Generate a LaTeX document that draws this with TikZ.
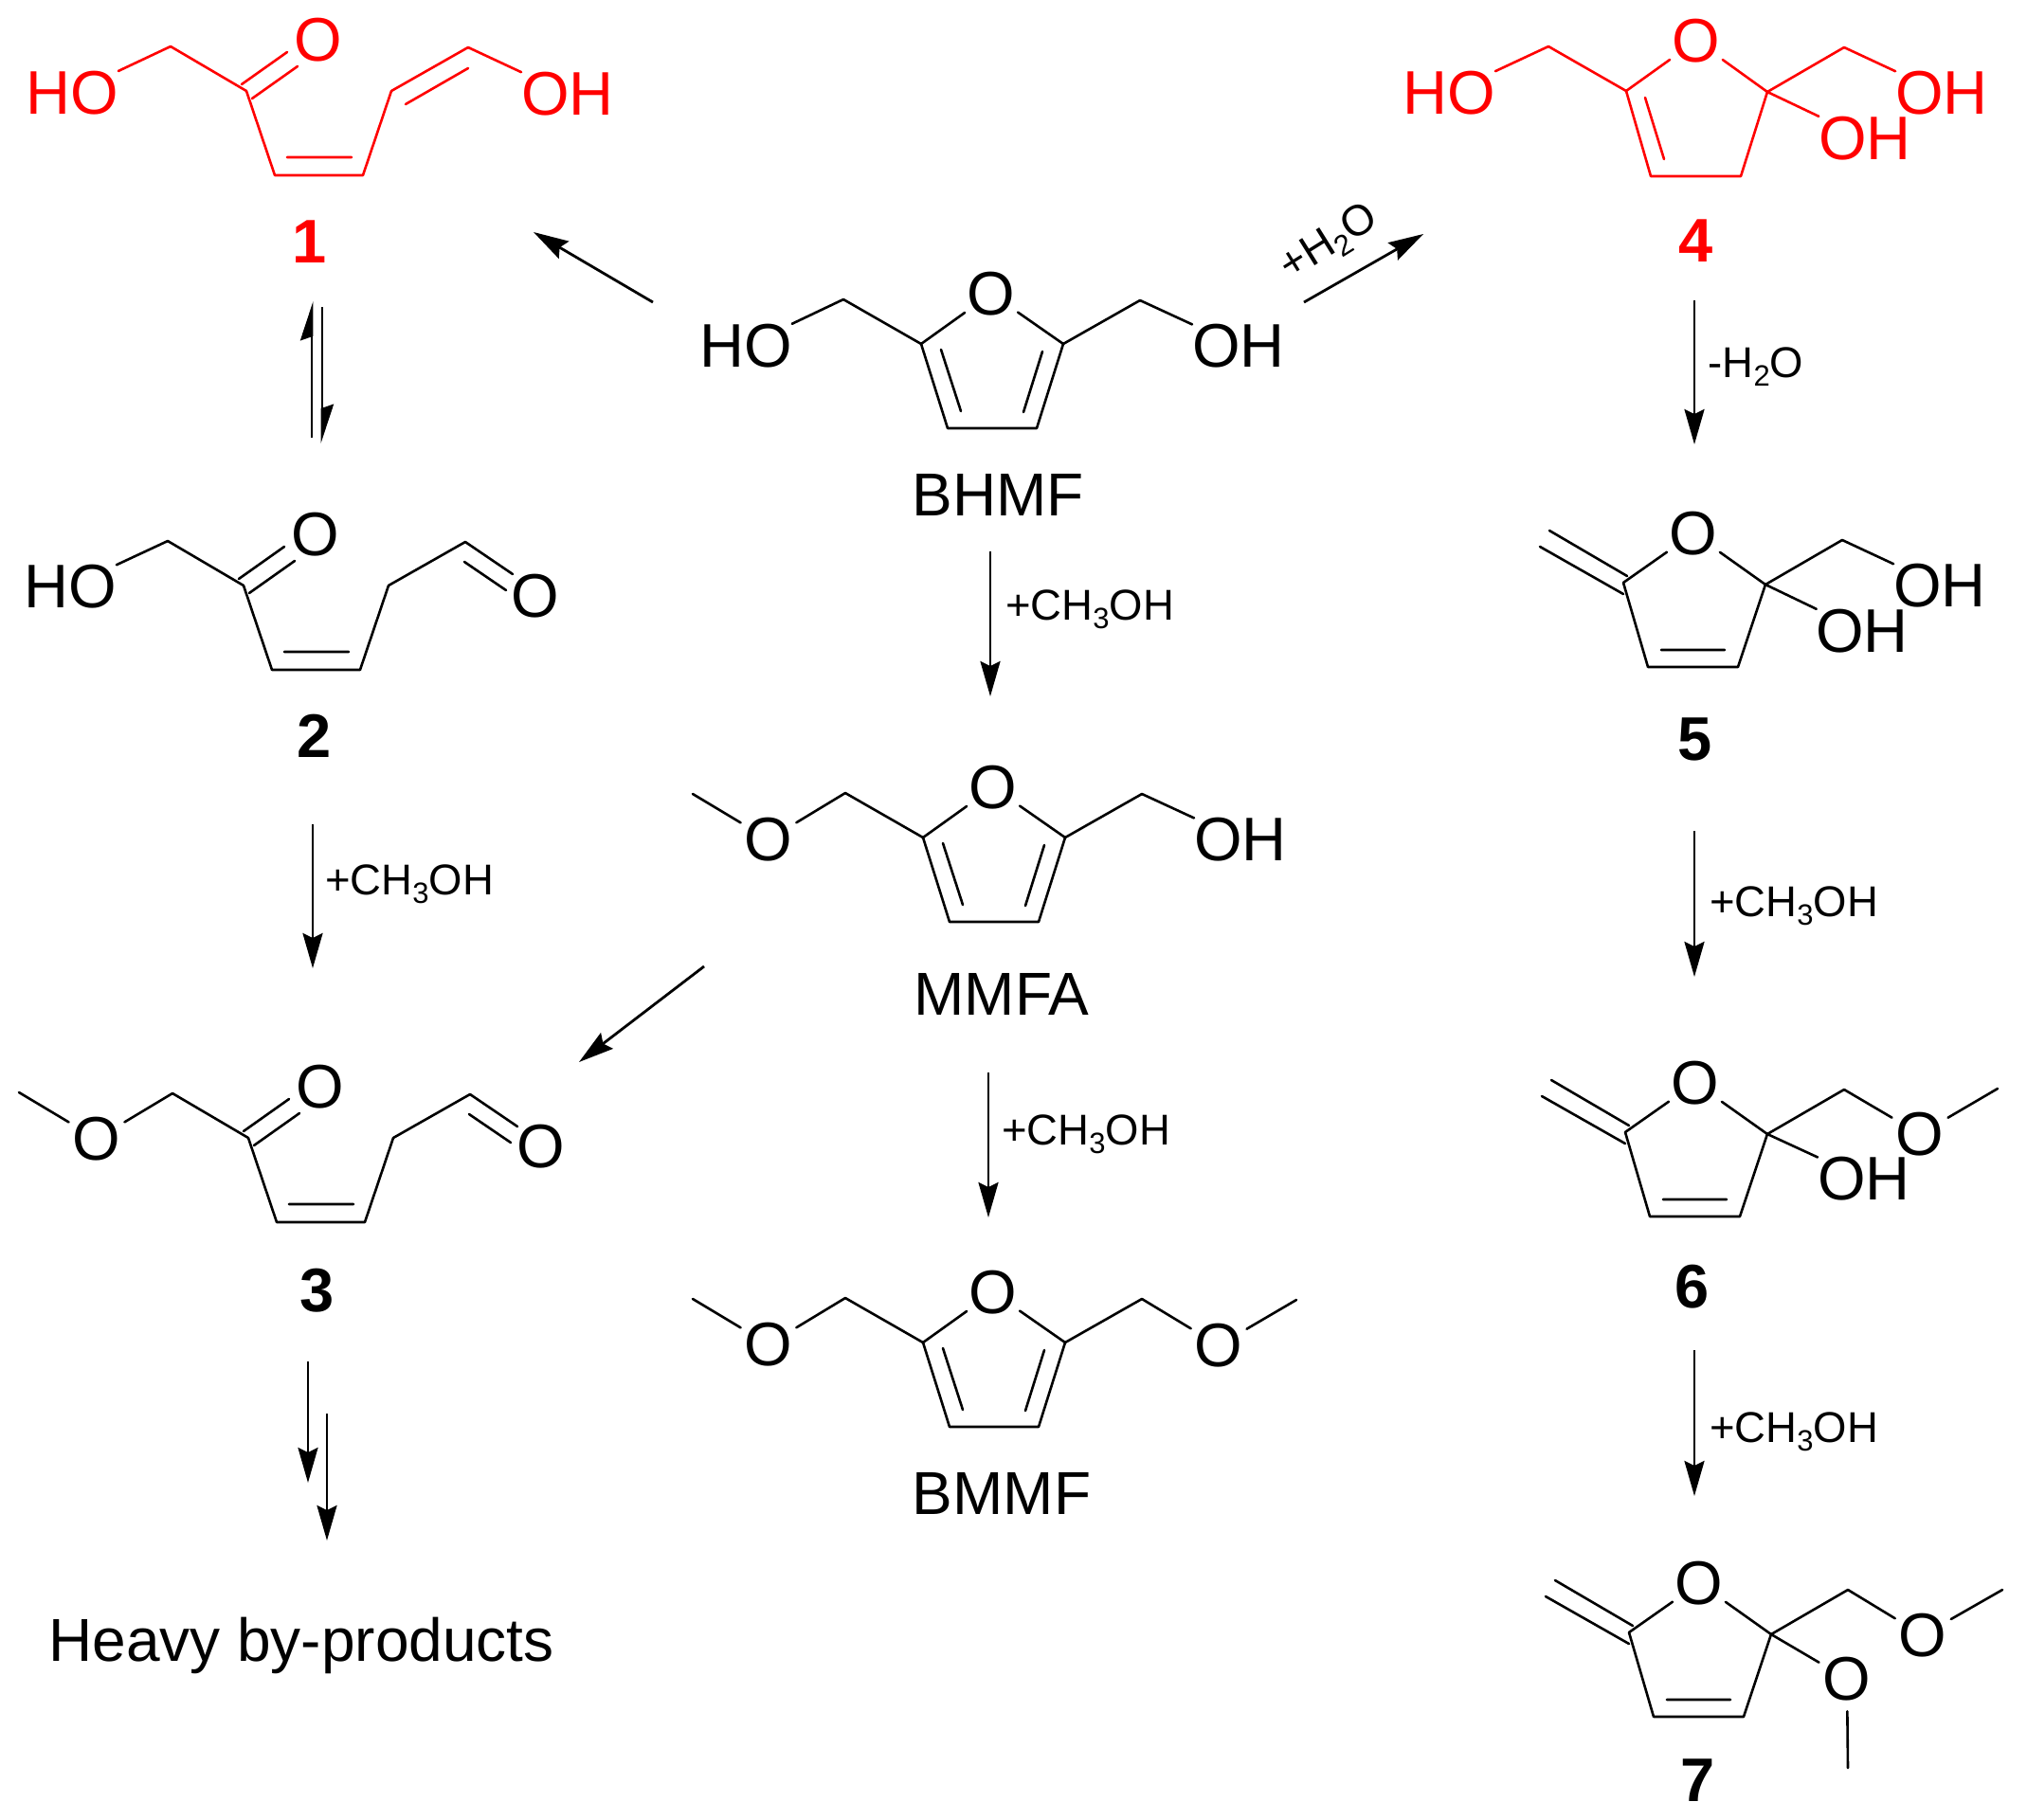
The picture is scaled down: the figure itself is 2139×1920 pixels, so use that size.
\documentclass[tikz,border=0pt]{standalone}
\usepackage{fontspec}
\setmainfont{Liberation Sans}
\usetikzlibrary{arrows.meta}
\definecolor{chemred}{RGB}{255,0,0}
\newcommand\atomfont{\fontsize{65}{70}\selectfont}
\newcommand\capfont{\fontsize{64}{68}\selectfont}
\newcommand\numfont{\fontsize{65}{70}\selectfont\bfseries}
\newcommand\labfont{\fontsize{45.5}{50}\selectfont}
\newcommand\subdig[1]{\raisebox{-.2em}{\fontsize{31}{31}\selectfont #1}}
\tikzset{
  bond/.style={line width=2.6pt,line cap=round,line join=round},
  atom/.style={circle,inner sep=0pt,minimum size=66pt,font=\atomfont},
  grp/.style={rectangle,inner sep=0pt,font=\atomfont},
  captext/.style={inner sep=0pt,font=\capfont},
  numtext/.style={inner sep=0pt,font=\numfont},
  labtext/.style={inner sep=0pt,font=\labfont},
  rxn/.style={line width=2.8pt,-{Stealth[length=37pt,width=21pt,inset=5pt]}},
  rxnhalf/.style={line width=2.8pt,-{Stealth[length=37pt,width=24pt,inset=4pt,left]}},
}
% open-chain core, in the coordinates of compound 2
\newcommand\chaincore{%
  \coordinate (ch2) at (177,571);
  \coordinate (c1) at (257,618);
  \coordinate (c3) at (287,707);
  \coordinate (c4) at (380,707);
  \coordinate (c5) at (410,618);
  \coordinate (ch) at (491,572);
  \coordinate (oa) at (252,611); \coordinate (ob) at (300,577);
  \coordinate (oc) at (263,626); \coordinate (od) at (311,592);
  \coordinate (ia) at (300,688); \coordinate (ib) at (368,688);
  \node[atom] (Ok) at (333,564) {O};
  \draw[bond] (ch2) -- (c1) -- (c3) -- (c4) -- (c5) -- (ch);
  \draw[bond] (oa) -- (ob) (oc) -- (od) (ia) -- (ib);
}
% aldehyde end of compounds 2 and 3
\newcommand\aldehyde{%
  \coordinate (ala) at (491,572); \coordinate (alb) at (541,606);
  \coordinate (alc) at (490,593); \coordinate (ald) at (534,623);
  \draw[bond] (ala) -- (alb) (alc) -- (ald);
}
% furan core, in the coordinates of BHMF
\newcommand\furancore{%
  \coordinate (lc) at (890,316);
  \coordinate (c2) at (972,363);
  \coordinate (c3) at (1000,452);
  \coordinate (c4) at (1094,452);
  \coordinate (c5) at (1122,363);
  \coordinate (rc) at (1203,317);
  \coordinate (ia) at (993,369); \coordinate (ib) at (1014,434);
  \coordinate (ic) at (1100,371); \coordinate (id) at (1080,435);
  \node[atom] (Or) at (1046,310) {O};
  \draw[bond] (lc) -- (c2) -- (c3) -- (c4) -- (c5) -- (rc);
  \draw[bond] (c2) -- (Or) -- (c5);
  \draw[bond] (ia) -- (ib) (ic) -- (id);
}
% methylene dihydrofuran core, in the coordinates of compound 5
\newcommand\methylenecore{%
  \coordinate (ea) at (1635,560); \coordinate (eb) at (1717,608);
  \coordinate (ec) at (1625,577); \coordinate (ed) at (1713,627);
  \coordinate (c2) at (1713,615);
  \coordinate (c3) at (1739,704);
  \coordinate (c4) at (1834,704);
  \coordinate (c5) at (1863,617);
  \coordinate (rc) at (1944,570);
  \coordinate (ia) at (1753,686); \coordinate (ib) at (1820,686);
  \node[atom] (Or) at (1787,563) {O};
  \draw[bond] (ea) -- (eb) (ec) -- (ed) (ia) -- (ib);
  \draw[bond] (c2) -- (c3) -- (c4) -- (c5) -- (rc);
  \draw[bond] (c2) -- (Or) -- (c5);
}
\begin{document}
\begin{tikzpicture}[x=1pt,y=-1pt]
\useasboundingbox (0,0) rectangle (2139,1920);

% compound 1
\begin{scope}[shift={(3,-522)},name prefix=a-,color=chemred]
  \chaincore
  \node[grp] (HO) at (73,620) {HO};
  \node[grp] (OH) at (596,621) {OH};
  \coordinate (id1) at (425,632); \coordinate (id2) at (491,594);
  \draw[bond] (ch2) -- (HO) (ch) -- (OH) (id1) -- (id2);
  \node[numtext] (n1) at (324,777) {1};
\end{scope}

% compound 2
\begin{scope}[name prefix=b-]
  \chaincore \aldehyde
  \node[grp] (HO) at (74,619) {HO};
  \node[atom] (Oal) at (565,629) {O};
  \draw[bond] (ch2) -- (HO);
  \node[numtext] (n2) at (332,777) {2};
\end{scope}

% compound 3
\begin{scope}[shift={(5,583)},name prefix=c-]
  \chaincore \aldehyde
  \node[atom] (Om) at (97,619) {O};
  \coordinate (me) at (15,570);
  \draw[bond] (ch2) -- (Om) -- (me);
  \node[atom] (Oal) at (566,627) {O};
  \node[numtext] (n3) at (330,779) {3};
\end{scope}

% BHMF
\begin{scope}[name prefix=d-]
  \furancore
  \node[grp] (HO) at (787,365) {HO};
  \node[grp] (OH) at (1307,365) {OH};
  \draw[bond] (lc) -- (HO) (rc) -- (OH);
  \node[captext] (name) at (1053,522) {BHMF};
\end{scope}

% MMFA
\begin{scope}[shift={(2,521)},name prefix=e-]
  \furancore
  \node[atom] (Om) at (809,365) {O};
  \coordinate (me) at (729,317);
  \node[grp] (OH) at (1307,365) {OH};
  \draw[bond] (lc) -- (Om) -- (me) (rc) -- (OH);
  \node[captext] (name) at (1055,528) {MMFA};
\end{scope}

% BMMF
\begin{scope}[shift={(2,1054)},name prefix=f-]
  \furancore
  \node[atom] (Om) at (809,365) {O};
  \coordinate (me) at (729,317);
  \node[atom] (Or2) at (1284,366) {O};
  \coordinate (me2) at (1366,318);
  \draw[bond] (lc) -- (Om) -- (me) (rc) -- (Or2) -- (me2);
  \node[captext] (name) at (1055,522) {BMMF};
\end{scope}

% compound 4
\begin{scope}[name prefix=g-,color=chemred]
  \coordinate (lc) at (1634,49);
  \coordinate (c2) at (1716,96);
  \coordinate (c3) at (1742,186);
  \coordinate (c4) at (1837,186);
  \coordinate (c5) at (1865,97);
  \coordinate (rc) at (1946,50);
  \coordinate (ia) at (1736,103); \coordinate (ib) at (1756,168);
  \node[atom] (Or) at (1790,43) {O};
  \node[grp] (HO) at (1529,98) {HO};
  \node[grp] (OH) at (2049,98) {OH};
  \node[grp] (OHb) at (1968,146) {OH};
  \draw[bond] (HO) -- (lc) -- (c2) -- (c3) -- (c4) -- (c5) -- (rc) -- (OH);
  \draw[bond] (c2) -- (Or) -- (c5) -- (OHb);
  \draw[bond] (ia) -- (ib);
  \node[numtext] (n4) at (1790,254) {4};
\end{scope}

% compound 5
\begin{scope}[name prefix=h-]
  \methylenecore
  \node[grp] (OH) at (2047,618) {OH};
  \node[grp] (OHb) at (1965,666) {OH};
  \draw[bond] (rc) -- (OH) (c5) -- (OHb);
  \node[numtext] (n5) at (1789,780) {5};
\end{scope}

% compound 6
\begin{scope}[shift={(2,580)},name prefix=i-]
  \methylenecore
  \node[atom] (Om) at (2024,617) {O};
  \coordinate (me) at (2106,569);
  \node[grp] (OHb) at (1965,664) {OH};
  \draw[bond] (rc) -- (Om) -- (me) (c5) -- (OHb);
  \node[numtext] (n6) at (1784,778) {6};
\end{scope}

% compound 7
\begin{scope}[shift={(6,1108)},name prefix=j-]
  \methylenecore
  \node[atom] (Om) at (2023,618) {O};
  \coordinate (me) at (2107,570);
  \node[atom] (Ob) at (1943,664) {O};
  \coordinate (meb) at (1944,758);
  \draw[bond] (rc) -- (Om) -- (me) (c5) -- (Ob) -- (meb);
  \node[numtext] (n7) at (1786,771) {7};
\end{scope}

% arrow end points
\coordinate (p1s) at (689,319);  \coordinate (p1e) at (563,245);
\coordinate (p2s) at (1376,319); \coordinate (p2e) at (1502,247);
\coordinate (p3s) at (1045,582); \coordinate (p3e) at (1045,735);
\coordinate (p4s) at (1043,1132);\coordinate (p4e) at (1043,1285);
\coordinate (p5s) at (743,1020); \coordinate (p5e) at (611,1121);
\coordinate (p6s) at (329,462);  \coordinate (p6e) at (329,318);
\coordinate (p7s) at (340,324);  \coordinate (p7e) at (340,468);
\coordinate (p8s) at (330,870);  \coordinate (p8e) at (330,1022);
\coordinate (p9s) at (325,1437); \coordinate (p9e) at (325,1565);
\coordinate (p10s) at (345,1492);\coordinate (p10e) at (345,1626);
\coordinate (p11s) at (1788,317);\coordinate (p11e) at (1788,469);
\coordinate (p12s) at (1788,877);\coordinate (p12e) at (1788,1031);
\coordinate (p13s) at (1788,1425);\coordinate (p13e) at (1788,1579);

\draw[rxn] (p1s) -- (p1e);
\draw[rxn] (p2s) -- (p2e);
\draw[rxn] (p3s) -- (p3e);
\draw[rxn] (p4s) -- (p4e);
\draw[rxn] (p5s) -- (p5e);
\draw[rxnhalf] (p6s) -- (p6e);
\draw[rxnhalf] (p7s) -- (p7e);
\draw[rxn] (p8s) -- (p8e);
\draw[rxn] (p9s) -- (p9e);
\draw[rxn] (p10s) -- (p10e);
\draw[rxn] (p11s) -- (p11e);
\draw[rxn] (p12s) -- (p12e);
\draw[rxn] (p13s) -- (p13e);

% reaction labels
\node[labtext,rotate=32] (l1) at (1403,257) {+H\subdig{2}O};
\node[labtext] (l2) at (1853,387) {-H\subdig{2}O};
\node[labtext] (l3) at (1150,643) {+CH\subdig{3}OH};
\node[labtext] (l4) at (1146,1197) {+CH\subdig{3}OH};
\node[labtext] (l5) at (432,933) {+CH\subdig{3}OH};
\node[labtext] (l6) at (1893,956) {+CH\subdig{3}OH};
\node[labtext] (l7) at (1893,1511) {+CH\subdig{3}OH};
\node[captext] (heavy) at (318,1737) {Heavy by-products};
\end{tikzpicture}
\end{document}
